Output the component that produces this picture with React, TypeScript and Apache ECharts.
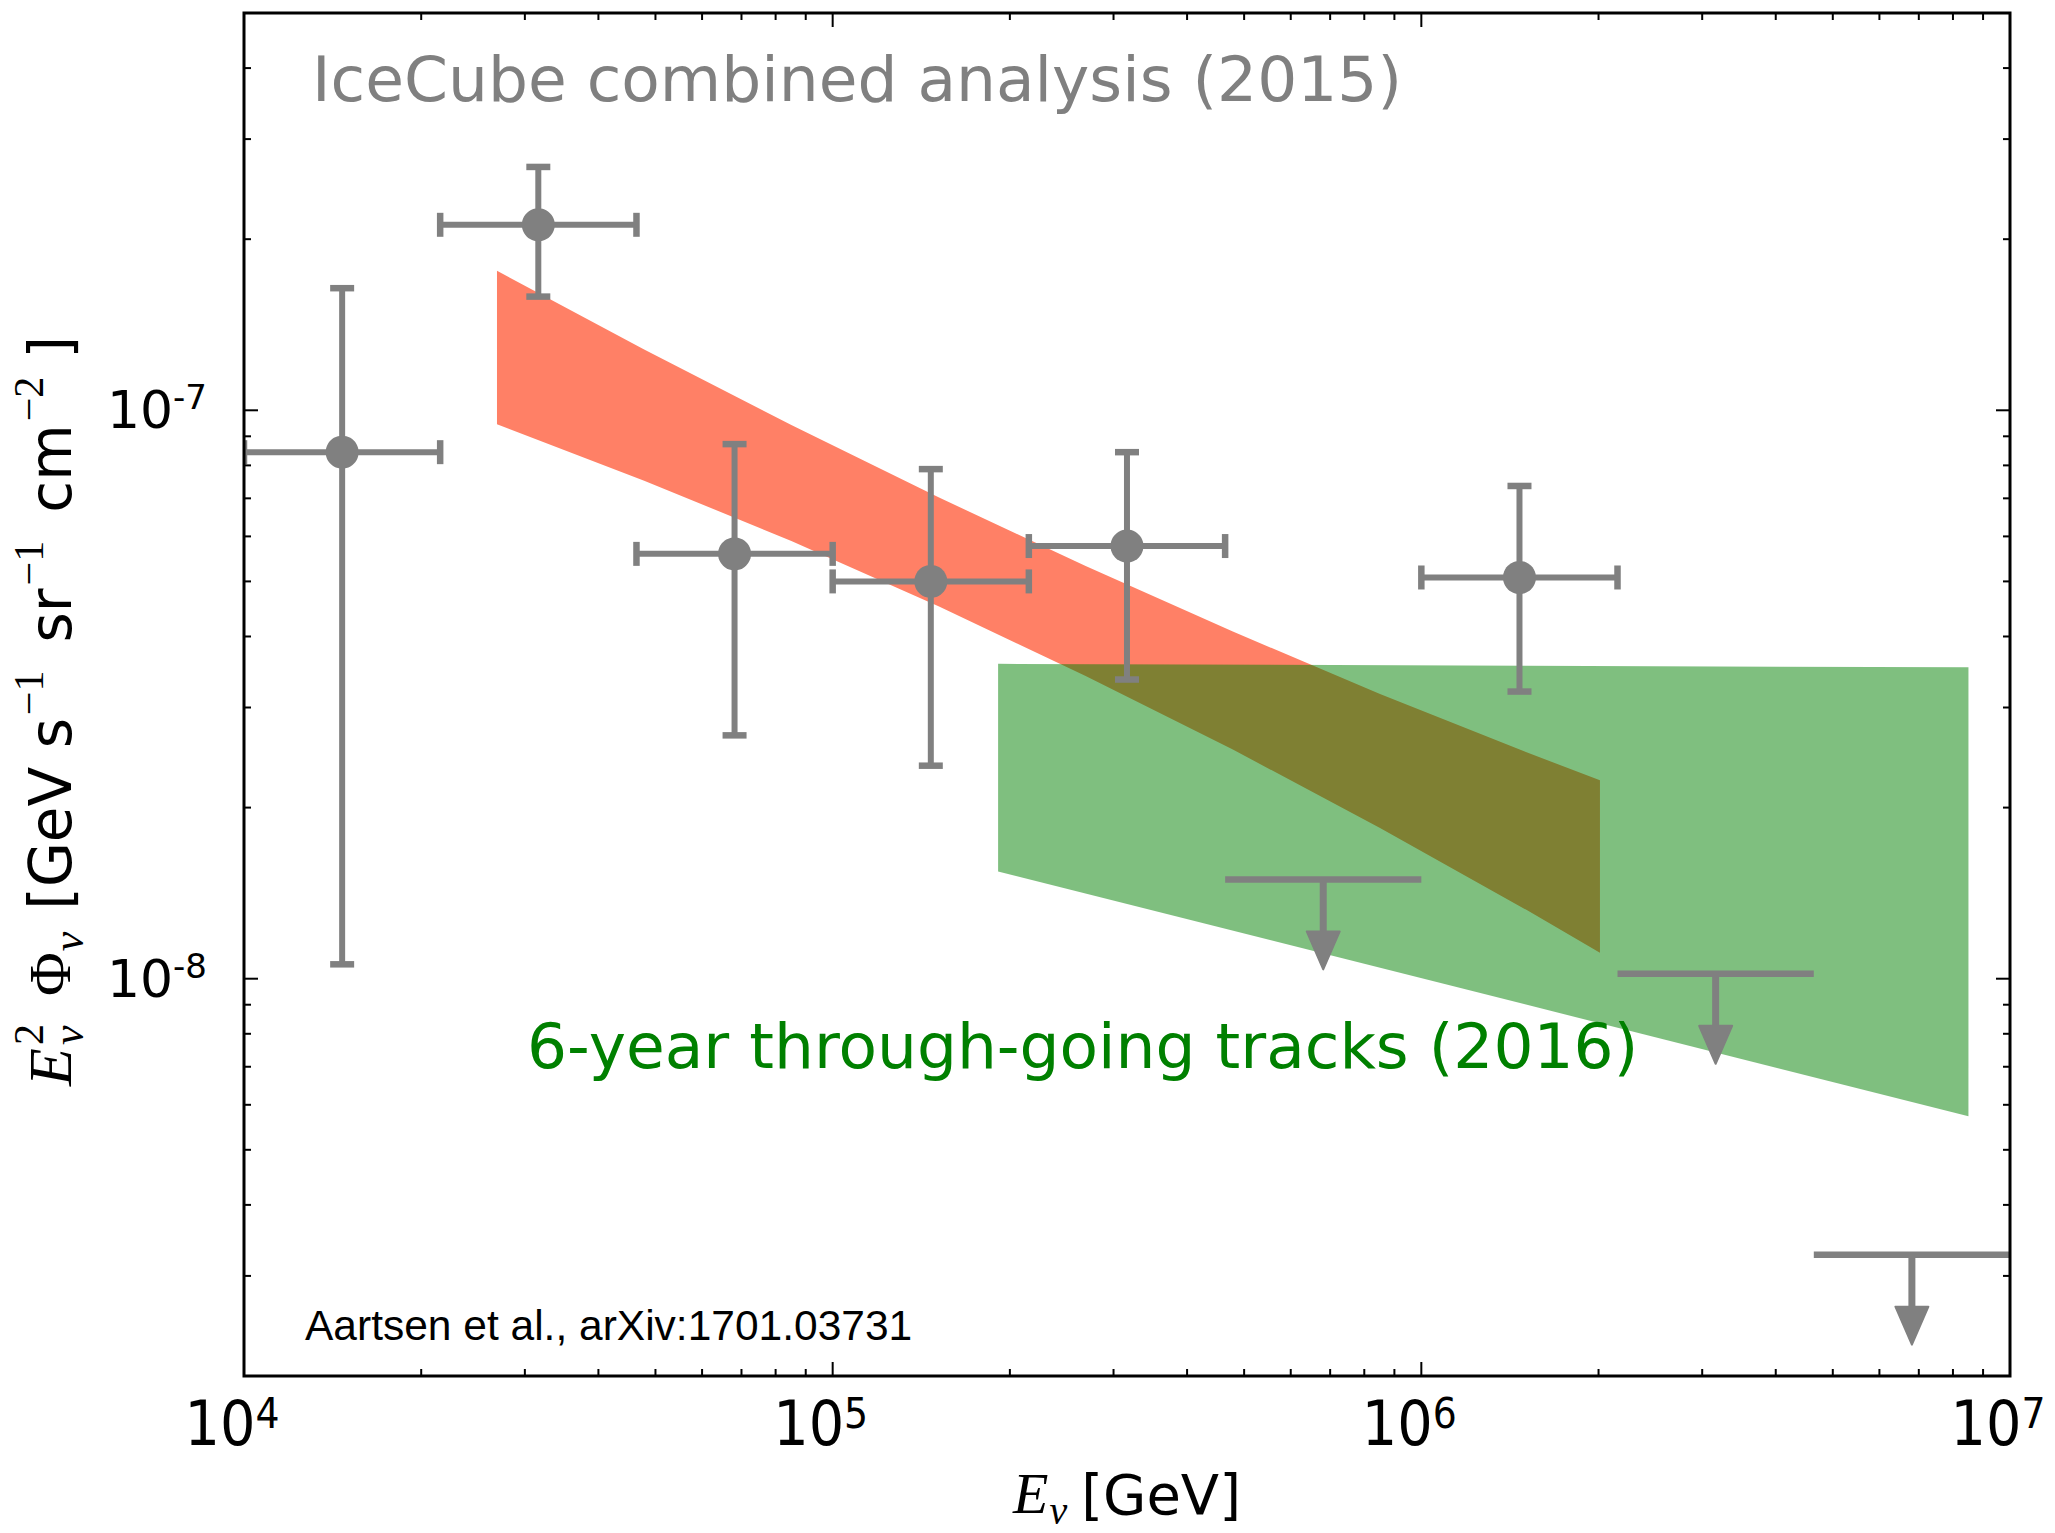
import React, { useEffect, useRef } from 'react';
import * as echarts from 'echarts';

// ---- data -------------------------------------------------------------
// Combined-analysis flux points (E in GeV, E^2 Phi in GeV s^-1 sr^-1 cm^-2)
const binCenter = [1.468e4, 3.162e4, 6.813e4, 1.468e5, 3.162e5, 1.468e6];
const binLow = [1.0e4, 2.154e4, 4.642e4, 1.0e5, 2.154e5, 1.0e6];
const binHigh = [2.154e4, 4.642e4, 1.0e5, 2.154e5, 4.642e5, 2.154e6];
const fluxBest = [8.44e-8, 2.12e-7, 5.59e-8, 5.0e-8, 5.77e-8, 5.08e-8];
const fluxLow = [1.06e-8, 1.585e-7, 2.68e-8, 2.37e-8, 3.36e-8, 3.2e-8];
const fluxHigh = [1.64e-7, 2.68e-7, 8.72e-8, 7.88e-8, 8.44e-8, 7.36e-8];

// Upper limits
const limitCenter = [6.813e5, 3.162e6, 6.813e6];
const limitLow = [4.642e5, 2.154e6, 4.642e6];
const limitHigh = [1.0e6, 4.642e6, 1.0e7];
const limitFlux = [1.495e-8, 1.02e-8, 3.27e-9];

// Power-law fit band of the combined analysis (upper / lower edge)
const comboE = [2.69e4, 4.784e4, 8.508e4, 1.513e5, 2.69e5, 4.784e5, 8.508e5, 1.513e6, 2.011e6];
const comboHigh = [1.76e-7, 1.279e-7, 9.42e-8, 7.03e-8, 5.32e-8, 4.08e-8, 3.17e-8, 2.5e-8, 2.234e-8];
const comboLow = [9.45e-8, 7.52e-8, 5.89e-8, 4.52e-8, 3.41e-8, 2.53e-8, 1.842e-8, 1.319e-8, 1.111e-8];

// Through-going muon tracks band
const tracksE = [1.91e5, 8.5e6];
const tracksHigh = [3.58e-8, 3.53e-8];
const tracksLow = [1.544e-8, 5.73e-9];

// Axis ranges and tick positions
const X_MIN = 1e4;
const X_MAX = 1e7;
const Y_MIN = 2e-9;
const Y_MAX = 5e-7;
const xMajor = [1e4, 1e5, 1e6, 1e7];
const xMinor = [
  2e4, 3e4, 4e4, 5e4, 6e4, 7e4, 8e4, 9e4,
  2e5, 3e5, 4e5, 5e5, 6e5, 7e5, 8e5, 9e5,
  2e6, 3e6, 4e6, 5e6, 6e6, 7e6, 8e6, 9e6,
];
const yMajor = [1e-8, 1e-7];
const yMinor = [
  3e-9, 4e-9, 5e-9, 6e-9, 7e-9, 8e-9, 9e-9,
  2e-8, 3e-8, 4e-8, 5e-8, 6e-8, 7e-8, 8e-8, 9e-8,
  2e-7, 3e-7, 4e-7,
];

const titleText = 'IceCube combined analysis (2015)';
const tracksText = '6-year through-going tracks (2016)';
const citeText = 'Aartsen et al., arXiv:1701.03731';

// ---- styling ------------------------------------------------------------
const GREY = '#808080';
const SANS = '"DejaVu Sans"';
const SERIF = '"Liberation Serif"';
const NARROW = '"Liberation Sans Narrow", "DejaVu Sans Condensed", "Liberation Sans", sans-serif';
const CENTRAL = 0.346; // distance from alphabetic baseline to central baseline, in em

type Run = { t: string; font: string; size: number; dy?: number; stack?: boolean; gap?: number };

function layoutRuns(runs: Run[], fill: string) {
  const ctx = document.createElement('canvas').getContext('2d') as CanvasRenderingContext2D;
  let pen = 0;
  let lastStart = 0;
  const children: any[] = [];
  for (const r of runs) {
    const start = r.stack ? lastStart : pen + (r.gap || 0);
    ctx.font = r.font;
    const w = ctx.measureText(r.t).width;
    children.push({
      type: 'text',
      x: start,
      y: (r.dy || 0) - CENTRAL * r.size,
      style: {
        text: r.t,
        font: r.font,
        fill,
        align: 'left',
        verticalAlign: 'middle',
        textAlign: 'left',
        textVerticalAlign: 'middle',
      },
    });
    pen = Math.max(pen, start + w);
    lastStart = start;
  }
  return { children, width: pen };
}

function plainText(text: string, x: number, baseline: number, size: number, family: string, fill: string) {
  return {
    type: 'text',
    x,
    y: baseline - CENTRAL * size,
    z: 20,
    silent: true,
    style: {
      text,
      font: `${size}px ${family}`,
      fill,
      align: 'left',
      verticalAlign: 'middle',
      textAlign: 'left',
      textVerticalAlign: 'middle',
    },
  };
}

function bandPoints(api: any, es: number[], hi: number[], lo: number[]) {
  const upper = es.map((e, i) => api.coord([e, hi[i]]));
  const lower = es.map((e, i) => api.coord([e, lo[i]])).reverse();
  return upper.concat(lower);
}

function powerLabel(v: number) {
  const lg = Math.log10(v);
  const e = Math.round(lg);
  if (Math.abs(lg - e) > 1e-6) return '';
  return `{b|10}{s|${e}}`;
}

function buildOption() {
  // y-axis title: E^2_nu Phi_nu [GeV s^-1 sr^-1 cm^-2]
  const supSerif = `42px ${SERIF}`;
  const body = `58px ${SANS}`;
  const yTitle = layoutRuns(
    [
      { t: 'E', font: `italic 62px ${SERIF}`, size: 62 },
      { t: '2', font: supSerif, size: 42, dy: -27, gap: 3 },
      { t: 'ν', font: `italic 44px ${SERIF}`, size: 44, dy: 13, stack: true },
      { t: 'Φ', font: `60px ${SERIF}`, size: 60, gap: 28 },
      { t: 'ν', font: `italic 44px ${SERIF}`, size: 44, dy: 13, gap: 1 },
      { t: '[GeV s', font: body, size: 58, gap: 22 },
      { t: '−1', font: supSerif, size: 42, dy: -27, gap: 3 },
      { t: 'sr', font: body, size: 58, gap: 28 },
      { t: '−1', font: supSerif, size: 42, dy: -27, gap: 3 },
      { t: 'cm', font: body, size: 58, gap: 28 },
      { t: '−2', font: supSerif, size: 42, dy: -27, gap: 3 },
      { t: ']', font: body, size: 58, gap: 18 },
    ],
    '#000'
  );
  const yTitleChildren = yTitle.children.map((c) => ({ ...c, x: c.x - yTitle.width / 2 }));

  // x-axis title: E_nu [GeV]
  const xTitle = layoutRuns(
    [
      { t: 'E', font: `italic 58px ${SERIF}`, size: 58 },
      { t: 'ν', font: `italic 40px ${SERIF}`, size: 40, dy: 10, gap: 1 },
      { t: '[GeV]', font: `56px ${SANS}`, size: 56, gap: 14 },
    ],
    '#000'
  );
  const xTitleChildren = xTitle.children.map((c) => ({ ...c, x: c.x - xTitle.width / 2 }));

  const tickData: number[][] = [
    ...xMajor.map((v) => [v, Y_MIN, 1, 0]),
    ...xMinor.map((v) => [v, Y_MIN, 0, 0]),
    ...yMajor.map((v) => [X_MIN, v, 1, 1]),
    ...yMinor.map((v) => [X_MIN, v, 0, 1]),
  ];

  const errData = binCenter.map((e, i) => [e, fluxBest[i], binLow[i], binHigh[i], fluxLow[i], fluxHigh[i]]);
  const limitData = limitCenter.map((e, i) => [e, limitFlux[i], limitLow[i], limitHigh[i]]);

  const barStyle = { stroke: GREY, lineWidth: 6 };
  const capStyle = { stroke: GREY, lineWidth: 6.5 };
  const CAP = 12;

  return {
    animation: false,
    backgroundColor: '#ffffff',
    grid: { left: 244, top: 13, width: 1766, height: 1363 },
    xAxis: {
      type: 'log',
      logBase: 10,
      min: X_MIN,
      max: X_MAX,
      axisLine: { show: false },
      axisTick: { show: false },
      minorTick: { show: false },
      splitLine: { show: false },
      axisLabel: {
        margin: 16,
        padding: [0, 24, 0, 0],
        formatter: powerLabel,
        rich: {
          b: { fontFamily: NARROW, fontSize: 62, lineHeight: 62, color: '#000' },
          s: { fontFamily: NARROW, fontSize: 42, lineHeight: 31, verticalAlign: 'top', color: '#000' },
        },
      },
    },
    yAxis: {
      type: 'log',
      logBase: 10,
      min: Y_MIN,
      max: Y_MAX,
      axisLine: { show: false },
      axisTick: { show: false },
      minorTick: { show: false },
      splitLine: { show: false },
      axisLabel: {
        margin: 37,
        formatter: powerLabel,
        rich: {
          b: { fontFamily: SANS, fontSize: 52, lineHeight: 60, color: '#000' },
          s: { fontFamily: SANS, fontSize: 34, lineHeight: 24, verticalAlign: 'top', color: '#000' },
        },
      },
    },
    series: [
      {
        type: 'custom',
        name: 'combined fit',
        z: 1,
        silent: true,
        data: [[comboE[0], comboHigh[0]]],
        renderItem: (_p: any, api: any) => ({
          type: 'polygon',
          shape: { points: bandPoints(api, comboE, comboHigh, comboLow) },
          style: { fill: '#FF8066' },
        }),
      },
      {
        type: 'custom',
        name: 'tracks',
        z: 2,
        silent: true,
        data: [[tracksE[0], tracksHigh[0]]],
        renderItem: (_p: any, api: any) => ({
          type: 'polygon',
          shape: { points: bandPoints(api, tracksE, tracksHigh, tracksLow) },
          style: { fill: 'rgba(0,128,0,0.5)' },
        }),
      },
      {
        type: 'custom',
        name: 'error bars',
        z: 3,
        silent: true,
        clip: true,
        data: errData,
        renderItem: (_p: any, api: any) => {
          const e = api.value(0);
          const f = api.value(1);
          const l = api.coord([api.value(2), f]);
          const r = api.coord([api.value(3), f]);
          const b = api.coord([e, api.value(4)]);
          const t = api.coord([e, api.value(5)]);
          return {
            type: 'group',
            children: [
              { type: 'line', shape: { x1: l[0], y1: l[1], x2: r[0], y2: r[1] }, style: barStyle },
              { type: 'line', shape: { x1: b[0], y1: b[1], x2: t[0], y2: t[1] }, style: barStyle },
              { type: 'line', shape: { x1: l[0], y1: l[1] - CAP, x2: l[0], y2: l[1] + CAP }, style: capStyle },
              { type: 'line', shape: { x1: r[0], y1: r[1] - CAP, x2: r[0], y2: r[1] + CAP }, style: capStyle },
              { type: 'line', shape: { x1: b[0] - CAP, y1: b[1], x2: b[0] + CAP, y2: b[1] }, style: capStyle },
              { type: 'line', shape: { x1: t[0] - CAP, y1: t[1], x2: t[0] + CAP, y2: t[1] }, style: capStyle },
            ],
          };
        },
      },
      {
        type: 'custom',
        name: 'upper limits',
        z: 3,
        silent: true,
        clip: true,
        data: limitData,
        renderItem: (_p: any, api: any) => {
          const c = api.coord([api.value(0), api.value(1)]);
          const l = api.coord([api.value(2), api.value(1)]);
          const r = api.coord([api.value(3), api.value(1)]);
          const shaft = 52;
          const tip = 90;
          const half = 16.5;
          return {
            type: 'group',
            children: [
              { type: 'line', shape: { x1: l[0], y1: l[1], x2: r[0], y2: r[1] }, style: capStyle },
              { type: 'line', shape: { x1: c[0], y1: c[1], x2: c[0], y2: c[1] + shaft + 2 }, style: { stroke: GREY, lineWidth: 7 } },
              {
                type: 'polygon',
                shape: {
                  points: [
                    [c[0] - half, c[1] + shaft],
                    [c[0] + half, c[1] + shaft],
                    [c[0], c[1] + tip],
                  ],
                },
                style: { fill: GREY, stroke: GREY, lineWidth: 2, lineJoin: 'round' },
              },
            ],
          };
        },
      },
      {
        type: 'scatter',
        name: 'points',
        z: 4,
        silent: true,
        symbol: 'circle',
        symbolSize: 33,
        itemStyle: { color: GREY, opacity: 1 },
        data: binCenter.map((e, i) => [e, fluxBest[i]]),
      },
      {
        type: 'custom',
        name: 'ticks',
        z: 6,
        silent: true,
        data: tickData,
        renderItem: (params: any, api: any) => {
          const cs = params.coordSys;
          const len = api.value(2) === 1 ? 14 : 7;
          const st = { stroke: '#000', lineWidth: 2 };
          if (api.value(3) === 0) {
            const px = api.coord([api.value(0), Y_MIN])[0];
            const bottom = cs.y + cs.height;
            return {
              type: 'group',
              children: [
                { type: 'line', shape: { x1: px, y1: bottom, x2: px, y2: bottom - len }, style: st },
                { type: 'line', shape: { x1: px, y1: cs.y, x2: px, y2: cs.y + len }, style: st },
              ],
            };
          }
          const py = api.coord([X_MIN, api.value(1)])[1];
          const right = cs.x + cs.width;
          return {
            type: 'group',
            children: [
              { type: 'line', shape: { x1: cs.x, y1: py, x2: cs.x + len, y2: py }, style: st },
              { type: 'line', shape: { x1: right, y1: py, x2: right - len, y2: py }, style: st },
            ],
          };
        },
      },
      {
        type: 'custom',
        name: 'frame',
        z: 7,
        silent: true,
        data: [[X_MIN, Y_MIN]],
        renderItem: (params: any) => {
          const cs = params.coordSys;
          return {
            type: 'rect',
            shape: { x: cs.x, y: cs.y, width: cs.width, height: cs.height },
            style: { fill: 'none', stroke: '#000', lineWidth: 3 },
          };
        },
      },
    ],
    graphic: [
      plainText(titleText, 312, 101, 63, SANS, GREY),
      plainText(tracksText, 527, 1068, 63, SANS, '#008000'),
      plainText(citeText, 305, 1340, 42.5, '"Liberation Sans"', '#000'),
      { type: 'group', x: 71, y: 711, rotation: Math.PI / 2, silent: true, z: 20, children: yTitleChildren },
      { type: 'group', x: 1127, y: 1514, silent: true, z: 20, children: xTitleChildren },
    ],
  };
}

export default function App() {
  const ref = useRef<HTMLDivElement>(null);
  useEffect(() => {
    if (!ref.current) return;
    const chart = echarts.init(ref.current, null, { renderer: 'svg' });
    chart.setOption(buildOption() as any);
    return () => chart.dispose();
  }, []);
  return (
    <div
      ref={ref}
      style={{ position: 'absolute', left: 0, top: 0, width: 2055, height: 1533, background: '#fff' }}
    />
  );
}
